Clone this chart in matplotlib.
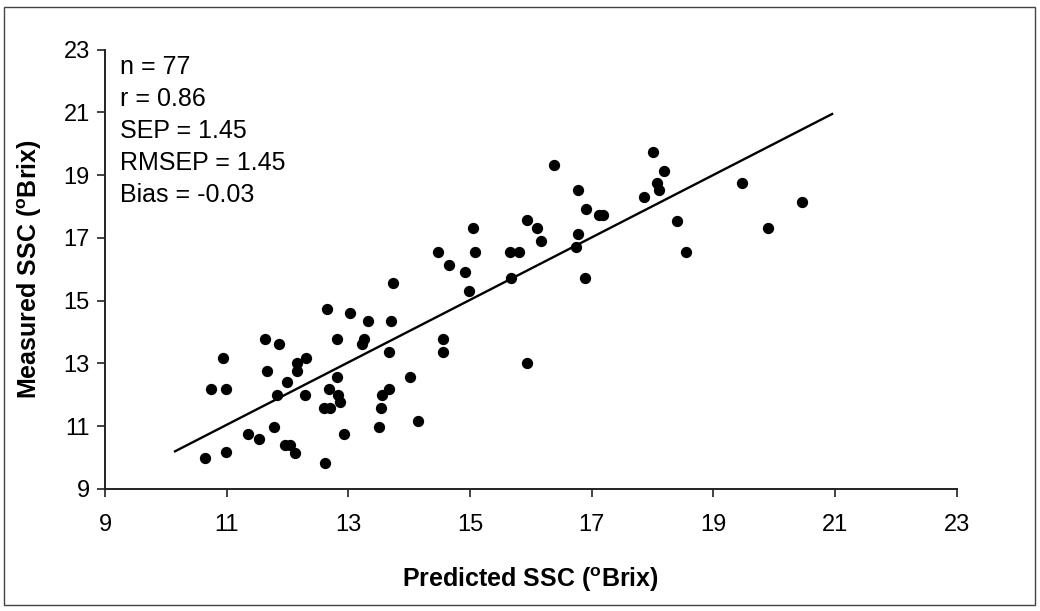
import matplotlib
matplotlib.use("Agg")
import matplotlib.pyplot as plt
from matplotlib.patches import Rectangle

plt.rcParams['font.family'] = ['Liberation Sans', 'DejaVu Sans']
plt.rcParams['mathtext.fontset'] = 'custom'
plt.rcParams['mathtext.rm'] = 'Liberation Sans'
plt.rcParams['mathtext.bf'] = 'Liberation Sans:bold'

# predicted vs measured soluble solids (deg Brix)
predicted = [12.65, 13.03, 13.33, 13.70, 11.63, 11.86, 12.81, 13.26, 13.23, 10.94,
             12.31, 12.16, 12.16, 11.67, 13.67, 10.74, 10.98, 11.99, 11.83, 12.28,
             12.81, 12.68, 12.83, 12.87, 12.60, 12.70, 13.67, 13.55, 13.54, 14.01,
             11.77, 11.35, 11.53, 11.95, 12.04, 12.13, 12.92, 13.50, 10.64, 10.98,
             12.62, 14.55, 14.55, 15.94, 14.15, 16.38, 16.78, 16.90, 17.12, 17.19,
             15.93, 16.10, 16.17, 16.78, 16.74, 16.89, 15.05, 15.08, 14.47, 14.65,
             14.92, 14.98, 15.66, 15.81, 15.68, 18.01, 18.19, 18.07, 18.10, 17.86,
             19.47, 20.45, 18.40, 19.90, 18.55, 13.73]
measured = [14.75, 14.60, 14.36, 14.36, 13.77, 13.61, 13.77, 13.78, 13.61, 13.19,
            13.18, 13.02, 12.77, 12.77, 13.35, 12.18, 12.18, 12.42, 12.00, 12.00,
            12.58, 12.18, 11.99, 11.77, 11.59, 11.59, 12.18, 12.00, 11.59, 12.58,
            10.98, 10.75, 10.58, 10.40, 10.40, 10.16, 10.75, 10.98, 10.00, 10.17,
            9.82, 13.77, 13.35, 13.00, 11.17, 19.32, 18.54, 17.91, 17.72, 17.72,
            17.56, 17.31, 16.91, 17.13, 16.72, 15.73, 17.31, 16.54, 16.54, 16.13,
            15.90, 15.30, 16.54, 16.54, 15.73, 19.73, 19.13, 18.75, 18.54, 18.31,
            18.74, 18.14, 17.55, 17.31, 16.54, 15.55]

fit_x = [10.15, 20.95]
fit_y = [10.20, 20.95]

stats = ['n = 77', 'r = 0.86', 'SEP = 1.45', 'RMSEP = 1.45', 'Bias = -0.03']
ticks = [9, 11, 13, 15, 17, 19, 21, 23]

fig = plt.figure(figsize=(10.4, 6.11), dpi=100)
ax = fig.add_axes([0.101, 0.1997, 0.819, 0.719])

ax.scatter(predicted, measured, s=66, color='black', zorder=3, linewidths=0)
ax.plot(fit_x, fit_y, color='black', lw=1.7, zorder=2)

ax.set_xlim(9, 23)
ax.set_ylim(9, 23)
ax.set_xticks(ticks)
ax.set_yticks(ticks)
ax.tick_params(direction='out', length=6, width=1.2, labelsize=17, color='#222222', pad=12)
ax.tick_params(axis='y', pad=5)
for side in ['top', 'right']:
    ax.spines[side].set_visible(False)
for side in ['left', 'bottom']:
    ax.spines[side].set_linewidth(1.4)
    ax.spines[side].set_color('#222222')

ax.set_xlabel(r'Predicted SSC ($\mathbf{^o}$Brix)', fontsize=18, fontweight='bold', labelpad=21)
ax.set_ylabel(r'Measured SSC ($\mathbf{^o}$Brix)', fontsize=18, fontweight='bold', labelpad=14)

for i, line in enumerate(stats):
    ax.text(0.0176, 0.96 - i * 0.0728, line, transform=ax.transAxes,
            fontsize=18, va='center', ha='left')

fig.patches.append(Rectangle((4 / 1040, 6 / 611), 1031 / 1040, 598 / 611,
                             transform=fig.transFigure, fill=False,
                             edgecolor='#444444', lw=1))

fig.savefig('out.png', dpi=100, facecolor='white')
